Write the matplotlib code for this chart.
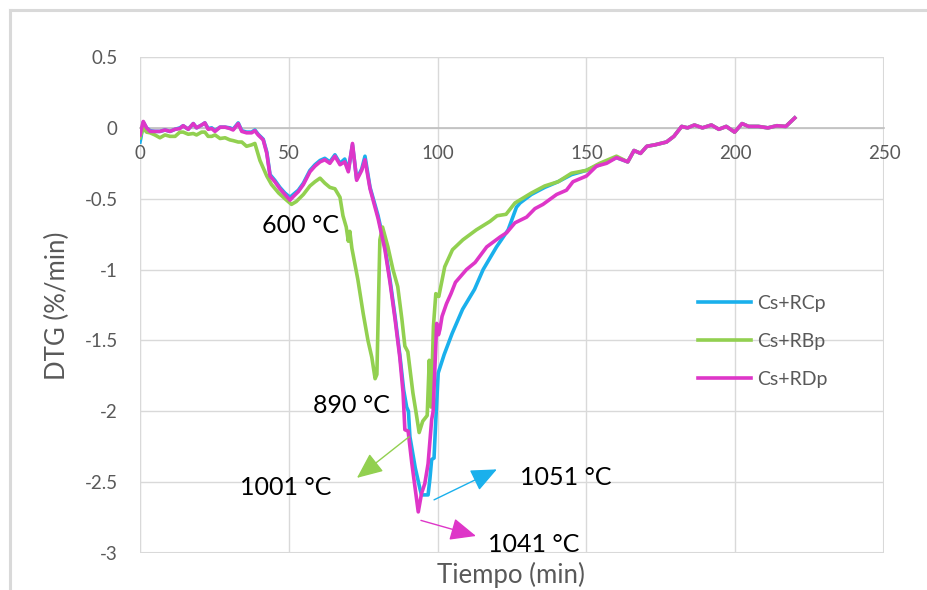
import matplotlib
matplotlib.use("Agg")
import matplotlib.pyplot as plt
from matplotlib.lines import Line2D
from matplotlib.patches import Rectangle
from matplotlib.ticker import FuncFormatter

plt.rcParams['font.family'] = ['Lato', 'DejaVu Sans']
plt.rcParams['axes.unicode_minus'] = False

# ---- data -------------------------------------------------------------
series_names = ["Cs+RCp", "Cs+RBp", "Cs+RDp"]
series_colors = ["#1AB0EC", "#92D050", "#DE36C8"]

tail_t = [166.0, 168.2, 170.3, 173.0, 176.9, 179.4, 182.0, 184.0, 186.3, 189.0,
          192.0, 194.5, 197.0, 199.8, 202.3, 204.5, 207.8, 211.0, 214.0, 217.0,
          218.5, 220.0]
tail_v = [-0.16, -0.18, -0.13, -0.12, -0.10, -0.06, 0.01, 0.0, 0.02, 0.0,
          0.02, -0.01, 0.01, -0.03, 0.03, 0.01, 0.01, 0.0, 0.015, 0.01,
          0.04, 0.07]

# Cs+RCp
rcp_t = [0, 0.3, 1.1, 2.2, 3.4, 5, 6.7, 8.4, 10.1, 11.8, 13.4, 14.5, 16.2, 17.9,
         19, 20.7, 21.8, 22.9, 24.1, 25.2, 26.9, 28.6, 30.2, 31.3, 33, 34.2, 35.8,
         37.5, 38.6, 39.7, 41.4, 42.6, 43.7, 45.3, 47, 48.7, 50.4, 51.5, 53.2,
         54.9, 57.1, 58.8, 60.5, 62.1, 63.8, 65.5, 67.2, 68.8, 70, 71.4, 72.8,
         74.5, 75.6, 77.3, 80, 82.3, 84, 85.7, 87.3, 88.6, 89.6, 90.2, 90.7, 92.5,
         94.1, 94.6, 96.8, 97.4, 98, 98.8, 99.4, 100.2, 102.2, 104.9, 108.4,
         112.4, 115.3, 119.8, 123.7, 126.5, 127.7, 131.5, 136, 140.5, 145, 150,
         154.5, 160.1, 163.9] + tail_t
rcp_v = [-0.1, -0.07, 0.04, 0.0, -0.02, -0.025, -0.025, -0.015, -0.025, -0.01,
         0.0, 0.015, -0.01, 0.03, 0.0, 0.02, 0.035, -0.005, 0.0, -0.02, 0.005,
         0.005, 0.0, -0.01, 0.035, -0.02, -0.03, -0.03, -0.015, -0.045, -0.08,
         -0.17, -0.33, -0.37, -0.42, -0.46, -0.49, -0.47, -0.44, -0.39, -0.30,
         -0.26, -0.23, -0.215, -0.24, -0.19, -0.25, -0.22, -0.30, -0.12, -0.36,
         -0.29, -0.20, -0.42, -0.62, -0.84, -1.07, -1.33, -1.60, -1.85, -1.97,
         -2.0, -2.18, -2.40, -2.55, -2.59, -2.59, -2.48, -2.34, -2.33, -2.06,
         -1.73, -1.60, -1.45, -1.28, -1.14, -1.0, -0.84, -0.72, -0.56, -0.53,
         -0.47, -0.42, -0.38, -0.33, -0.30, -0.26, -0.21, -0.24] + tail_v

# Cs+RBp
rbp_t = [0, 0.3, 1.1, 2.2, 3.4, 5, 6.7, 8.4, 10.1, 11.8, 13.4, 14.5, 16.2, 17.9,
         19, 20.7, 21.8, 22.9, 24.1, 25.2, 26.9, 28.6, 30.2, 31.3, 33, 34.2, 35.8,
         37.5, 38.6, 40.3, 42.6, 44.2, 46.6, 48.7, 50.9, 52.5, 54.9, 57.1, 58.8,
         60.5, 62.1, 63.8, 65.5, 67.2, 68.2, 69.3, 70, 70.5, 71.2, 73.2, 75, 76.6,
         77.9, 79, 79.6, 80.6, 81.5, 83.3, 85, 86.6, 88, 89, 90, 91.7, 92.7, 93.8,
         95, 96.5, 97.2, 97.8, 98.6, 99.4, 100.4, 102.4, 105, 108.5, 113, 117.6,
         120, 123, 126, 131.5, 136, 140.5, 145, 150, 154.5, 160.1, 163.9] + tail_t
rbp_v = [-0.07, -0.05, 0.0, -0.03, -0.035, -0.05, -0.07, -0.05, -0.06, -0.06,
         -0.03, -0.03, -0.045, -0.04, -0.05, -0.03, -0.03, -0.06, -0.06, -0.05,
         -0.075, -0.07, -0.085, -0.09, -0.10, -0.10, -0.13, -0.12, -0.11, -0.23,
         -0.34, -0.40, -0.46, -0.50, -0.54, -0.52, -0.47, -0.41, -0.38, -0.355,
         -0.39, -0.42, -0.43, -0.49, -0.62, -0.70, -0.80, -0.73, -0.85, -1.07,
         -1.31, -1.50, -1.62, -1.77, -1.74, -0.79, -0.70, -0.84, -1.0, -1.12,
         -1.35, -1.54, -1.58, -1.87, -2.0, -2.15, -2.07, -2.03, -1.64, -1.97,
         -1.40, -1.17, -1.19, -0.98, -0.86, -0.79, -0.72, -0.66, -0.62, -0.61,
         -0.53, -0.46, -0.41, -0.38, -0.32, -0.30, -0.25, -0.20, -0.24] + tail_v

# Cs+RDp
rdp_t = [0, 0.3, 1.1, 2.2, 3.4, 5, 6.7, 8.4, 10.1, 11.8, 13.4, 14.5, 16.2, 17.9,
         19, 20.7, 21.8, 22.9, 24.1, 25.2, 26.9, 28.6, 30.2, 31.3, 33, 34.2, 35.8,
         37.5, 38.6, 39.7, 41.4, 42.6, 43.7, 45.3, 47, 48.7, 50.4, 51.5, 53.2,
         54.9, 57.1, 58.8, 60.5, 62.1, 63.8, 65.5, 67.2, 68.8, 70, 71.4, 72.8,
         74.5, 75.6, 77.3, 80, 82.3, 84, 85.7, 87.3, 88.4, 89, 90.1, 91.3, 93.5,
         94.6, 95.7, 96.8, 98, 98.5, 99.7, 100.3, 100.8, 101.5, 103, 104.5, 106,
         109.7, 112.6, 116.5, 121, 123.2, 126, 129.9, 132.7, 135.4, 140, 143.3,
         145.5, 150, 153.4, 156.8, 160.1, 163.9] + tail_t
rdp_v = [-0.05, -0.02, 0.045, 0.0, -0.025, -0.025, -0.025, -0.015, -0.025,
         -0.01, -0.005, 0.015, -0.01, 0.03, 0.0, 0.02, 0.035, -0.01, -0.005,
         -0.025, 0.005, 0.005, -0.005, -0.015, 0.03, -0.025, -0.035, -0.035,
         -0.02, -0.05, -0.085, -0.18, -0.34, -0.38, -0.43, -0.47, -0.51, -0.485,
         -0.45, -0.40, -0.31, -0.27, -0.24, -0.225, -0.25, -0.20, -0.26, -0.24,
         -0.31, -0.11, -0.37, -0.30, -0.225, -0.43, -0.64, -0.86, -1.09, -1.35,
         -1.62, -1.87, -2.13, -2.14, -2.36, -2.71, -2.58, -2.51, -2.37, -2.06,
         -2.0, -1.38, -1.46, -1.42, -1.33, -1.24, -1.17, -1.09, -1.0, -0.95,
         -0.84, -0.77, -0.74, -0.67, -0.63, -0.57, -0.54, -0.47, -0.44, -0.38,
         -0.34, -0.27, -0.25, -0.21, -0.24] + tail_v

series_t = [rcp_t, rbp_t, rdp_t]
series_v = [rcp_v, rbp_v, rdp_v]

# peak temperature callouts: text, text anchor, arrow tail, arrow head, colour
callout_text = ["600 °C", "890 °C", "1001 °C", "1051 °C", "1041 °C"]
callout_pos = [(41.0, -0.69), (58.1, -1.96), (33.6, -2.54), (127.6, -2.47), (116.9, -2.94)]
arrow_tail = [(90.4, -2.18), (98.8, -2.625), (94.4, -2.77)]
arrow_head = [(72.9, -2.47), (119.9, -2.41), (112.9, -2.88)]
arrow_color = ["#92D050", "#1AB0EC", "#DE36C8"]

x_ticks = [0, 50, 100, 150, 200, 250]
y_ticks = [0.5, 0, -0.5, -1, -1.5, -2, -2.5, -3]

# ---- figure -----------------------------------------------------------
W, H = 927, 590
fig = plt.figure(figsize=(W / 100, H / 100), dpi=100)
fig.patch.set_facecolor("white")

# outer chart frame
frame_col = "#D9D9D9"
fig.add_artist(Line2D([10 / W, 10 / W], [0, 1 - 10 / H], transform=fig.transFigure,
                      color=frame_col, lw=2.2))
fig.add_artist(Line2D([10 / W, 1], [1 - 10 / H, 1 - 10 / H], transform=fig.transFigure,
                      color=frame_col, lw=2.2))

ax = fig.add_axes([140 / W, 1 - 553 / H, (884 - 140) / W, (553 - 57) / H])
ax.set_xlim(0, 250)
ax.set_ylim(-3, 0.5)

grid_col = "#D9D9D9"
for s in ["top", "right", "left"]:
    ax.spines[s].set_visible(False)
ax.add_patch(Rectangle((0, 0), 1, 1, transform=ax.transAxes, fill=False,
                       edgecolor=grid_col, lw=1.5, zorder=0.5))
ax.spines["bottom"].set_position(("data", 0))
ax.spines["bottom"].set_color("#BFBFBF")
ax.spines["bottom"].set_linewidth(1.2)

ax.set_xticks(x_ticks)
ax.set_yticks(y_ticks)
ax.yaxis.set_major_formatter(FuncFormatter(lambda v, p: "%g" % v))
ax.grid(True, color=grid_col, lw=1.0, zorder=0)
ax.set_axisbelow(True)
ax.tick_params(axis="both", length=0, labelsize=13.5, labelcolor="#595959")
ax.tick_params(axis="y", pad=16)
ax.tick_params(axis="x", pad=12)

lines = []
for t, v, c, n in zip(series_t, series_v, series_colors, series_names):
    ln, = ax.plot(t, v, color=c, lw=2.6, label=n, solid_joinstyle="round", zorder=3)
    lines.append(ln)

for txt, (tx, ty) in zip(callout_text, callout_pos):
    ax.text(tx, ty, txt, fontsize=18, color="black", ha="left", va="center", zorder=4)

for tail, head, c in zip(arrow_tail, arrow_head, arrow_color):
    ax.annotate("", xy=head, xytext=tail,
                arrowprops=dict(arrowstyle="-|>,head_length=0.8,head_width=0.35",
                                color=c, lw=1.0, mutation_scale=20,
                                shrinkA=0, shrinkB=0), zorder=4)

# axis titles
fig.text(511 / W, 1 - 575 / H, "Tiempo (min)", fontsize=18.5, color="#595959",
         ha="center", va="center")
fig.text(57 / W, 1 - 306 / H, "DTG (%/min)", fontsize=18.5, color="#595959",
         ha="center", va="center", rotation=90)

leg = fig.legend(handles=lines, loc="upper left",
                 bbox_to_anchor=(698 / W, 1 - 295 / H), frameon=False,
                 fontsize=14, labelcolor="#595959", handlelength=2.7,
                 handletextpad=0.35, labelspacing=1.08, borderpad=0,
                 borderaxespad=0)

fig.savefig("out.png", dpi=100, facecolor="white")
